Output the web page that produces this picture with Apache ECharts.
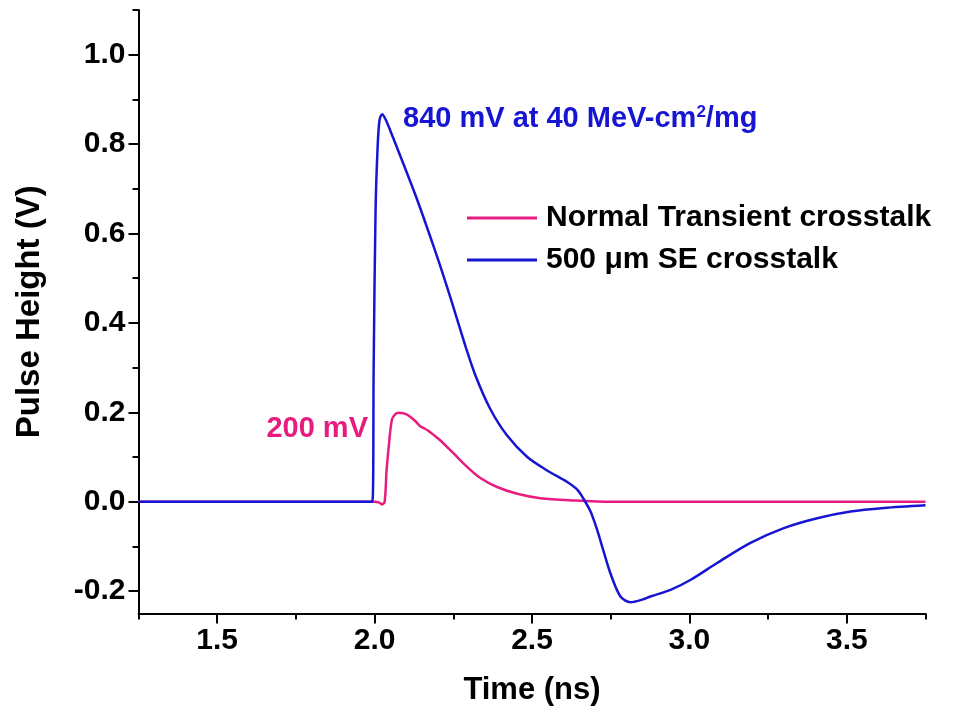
<!DOCTYPE html>
<html>
<head>
<meta charset="utf-8">
<script src="https://cdn.jsdelivr.net/npm/echarts@6/dist/echarts.min.js"></script>
<style>
html,body{margin:0;padding:0;background:#fff;}
#chart{width:969px;height:711px;}
</style>
</head>
<body>
<div id="chart"></div>
<script>
// ---- data ----
const seriesNames = ['Normal Transient crosstalk', '500 \u03bcm SE crosstalk'];
const xTicksMajor = [1.5, 2.0, 2.5, 3.0, 3.5];
const yTicksMajor = [-0.2, 0.0, 0.2, 0.4, 0.6, 0.8, 1.0];
const normalTime = [1.25, 2.0, 2.015, 2.024, 2.032, 2.038, 2.045, 2.055, 2.066, 2.076, 2.09, 2.103, 2.117, 2.13, 2.145, 2.158, 2.172, 2.19, 2.209, 2.251, 2.294, 2.336, 2.389, 2.453, 2.527, 2.633, 2.75, 3.75];
const normalVolt = [0, 0, -0.002, -0.006, 0.0, 0.07, 0.124, 0.184, 0.196, 0.199, 0.198, 0.195, 0.188, 0.18, 0.169, 0.164, 0.158, 0.148, 0.137, 0.108, 0.078, 0.053, 0.033, 0.018, 0.008, 0.003, 0.0, 0.0];
const seTime = [1.25, 1.993, 1.997, 2.003, 2.01, 2.016, 2.024, 2.035, 2.05, 2.082, 2.135, 2.188, 2.225, 2.26, 2.29, 2.32, 2.367, 2.421, 2.485, 2.548, 2.612, 2.645, 2.665, 2.686, 2.707, 2.727, 2.749, 2.781, 2.813, 2.85, 2.876, 2.94, 3.003, 3.088, 3.194, 3.3, 3.406, 3.512, 3.618, 3.75];
const seVolt = [0, 0, 0.3, 0.65, 0.8, 0.855, 0.867, 0.855, 0.83, 0.773, 0.676, 0.57, 0.492, 0.413, 0.345, 0.283, 0.208, 0.148, 0.1, 0.07, 0.044, 0.026, 0.005, -0.022, -0.063, -0.11, -0.16, -0.212, -0.225, -0.219, -0.212, -0.197, -0.175, -0.137, -0.092, -0.059, -0.037, -0.022, -0.014, -0.008];

const pink = '#e61c80';
const blue = '#1616d2';
const FONT = '"Liberation Sans", Arial, Helvetica, sans-serif';

const chart = echarts.init(document.getElementById('chart'));

// geometry of main plot
const L = 138.5, R = 43.5, T = 10, B = 97.5;
const X0 = 1.25, X1 = 3.75, Y0 = -0.25, Y1 = 1.1;
const W = 969 - L - R, H = 711 - T - B;
const pxX = W / (X1 - X0), pxY = H / (Y1 - Y0);

const zip = (a, b) => a.map((v, i) => [v, b[i]]);
const fmt1 = v => v.toFixed(1);
const gridBase = { outerBoundsMode: 'none', containLabel: false };

const option = {
  animation: false,
  backgroundColor: '#ffffff',
  textStyle: { fontFamily: FONT },
  grid: [
    Object.assign({ left: L, right: R, top: T, bottom: B }, gridBase),
    Object.assign({ left: L, right: R, top: T, bottom: 711 - (T + (Y1 - (-0.2)) * pxY) }, gridBase),
    Object.assign({ left: L, right: R, top: T + (Y1 - 1.0) * pxY, bottom: 711 - (T + (Y1 - (-0.2)) * pxY) }, gridBase),
    Object.assign({ left: L + (1.5 - X0) * pxX, right: R + (X1 - 3.5) * pxX, top: T, bottom: B }, gridBase)
  ],
  xAxis: [
    { gridIndex: 0, type: 'value', min: X0, max: X1, interval: 0.25,
      axisLine: { show: true, onZero: false, lineStyle: { color: '#000', width: 2 } },
      axisTick: { show: true, inside: false, length: 6, lineStyle: { color: '#000', width: 2 } },
      axisLabel: { show: false }, splitLine: { show: false } },
    { gridIndex: 1, type: 'value', show: false },
    { gridIndex: 2, type: 'value', show: false },
    { gridIndex: 3, type: 'value', min: xTicksMajor[0], max: xTicksMajor[xTicksMajor.length - 1], interval: 0.5,
      axisLine: { show: false, onZero: false },
      axisTick: { show: true, length: 10, lineStyle: { color: '#000', width: 2 } },
      axisLabel: { show: true, color: '#000', fontWeight: 'bold', fontSize: 30, fontFamily: FONT, margin: 12, formatter: fmt1 },
      splitLine: { show: false },
      name: 'Time (ns)', nameLocation: 'middle', nameGap: 61,
      nameTextStyle: { color: '#000', fontWeight: 'bold', fontSize: 31, fontFamily: FONT } }
  ],
  yAxis: [
    { gridIndex: 0, type: 'value', min: Y0, max: Y1,
      axisLine: { show: true, onZero: false, lineStyle: { color: '#000', width: 2 } },
      axisTick: { show: false }, axisLabel: { show: false }, splitLine: { show: false },
      name: 'Pulse Height (V)', nameLocation: 'middle', nameGap: 92, nameRotate: 90,
      nameTextStyle: { color: '#000', fontWeight: 'bold', fontSize: 33, fontFamily: FONT } },
    { gridIndex: 1, type: 'value', min: -0.2, max: Y1, interval: 0.1,
      axisLine: { show: false, onZero: false },
      axisTick: { show: true, length: 6, lineStyle: { color: '#000', width: 2 } },
      axisLabel: { show: false }, splitLine: { show: false } },
    { gridIndex: 2, type: 'value', min: yTicksMajor[0], max: yTicksMajor[yTicksMajor.length - 1], interval: 0.2,
      axisLine: { show: false, onZero: false },
      axisTick: { show: true, length: 10, lineStyle: { color: '#000', width: 2 } },
      axisLabel: { show: true, color: '#000', fontWeight: 'bold', fontSize: 30, fontFamily: FONT, margin: 13, formatter: fmt1 },
      splitLine: { show: false } },
    { gridIndex: 3, type: 'value', show: false }
  ],
  legend: {
    orient: 'vertical', left: 462, top: 197,
    itemWidth: 70, itemHeight: 3, itemGap: 10,
    icon: 'rect',
    data: seriesNames,
    textStyle: { color: '#000', fontWeight: 'bold', fontSize: 30, fontFamily: FONT, padding: [0, 0, 0, 4], lineHeight: 32 }
  },
  series: [
    { name: seriesNames[0], type: 'line', xAxisIndex: 0, yAxisIndex: 0,
      data: zip(normalTime, normalVolt), showSymbol: false, symbol: 'none',
      smooth: 0.3,
      lineStyle: { color: pink, width: 2.5 }, itemStyle: { color: pink } },
    { name: seriesNames[1], type: 'line', xAxisIndex: 0, yAxisIndex: 0,
      data: zip(seTime, seVolt), showSymbol: false, symbol: 'none',
      smooth: 0.3,
      lineStyle: { color: blue, width: 2.5 }, itemStyle: { color: blue } }
  ],
  graphic: [
    { type: 'text', left: 403, top: 104,
      style: { text: '{a|840 mV at 40 MeV-cm}{s|2}{a|/mg}', fill: blue,
        rich: {
          a: { fontSize: 29, fontWeight: 'bold', fontFamily: FONT, fill: blue, color: blue },
          s: { fontSize: 17, fontWeight: 'bold', fontFamily: FONT, fill: blue, color: blue, verticalAlign: 'top', padding: [0, 0, 12, 0] }
        } } },
    { type: 'text', right: 969 - 368, top: 414,
      style: { text: '200 mV', fill: pink, font: 'bold 29px ' + FONT } }
  ]
};
chart.setOption(option);
</script>
</body>
</html>
